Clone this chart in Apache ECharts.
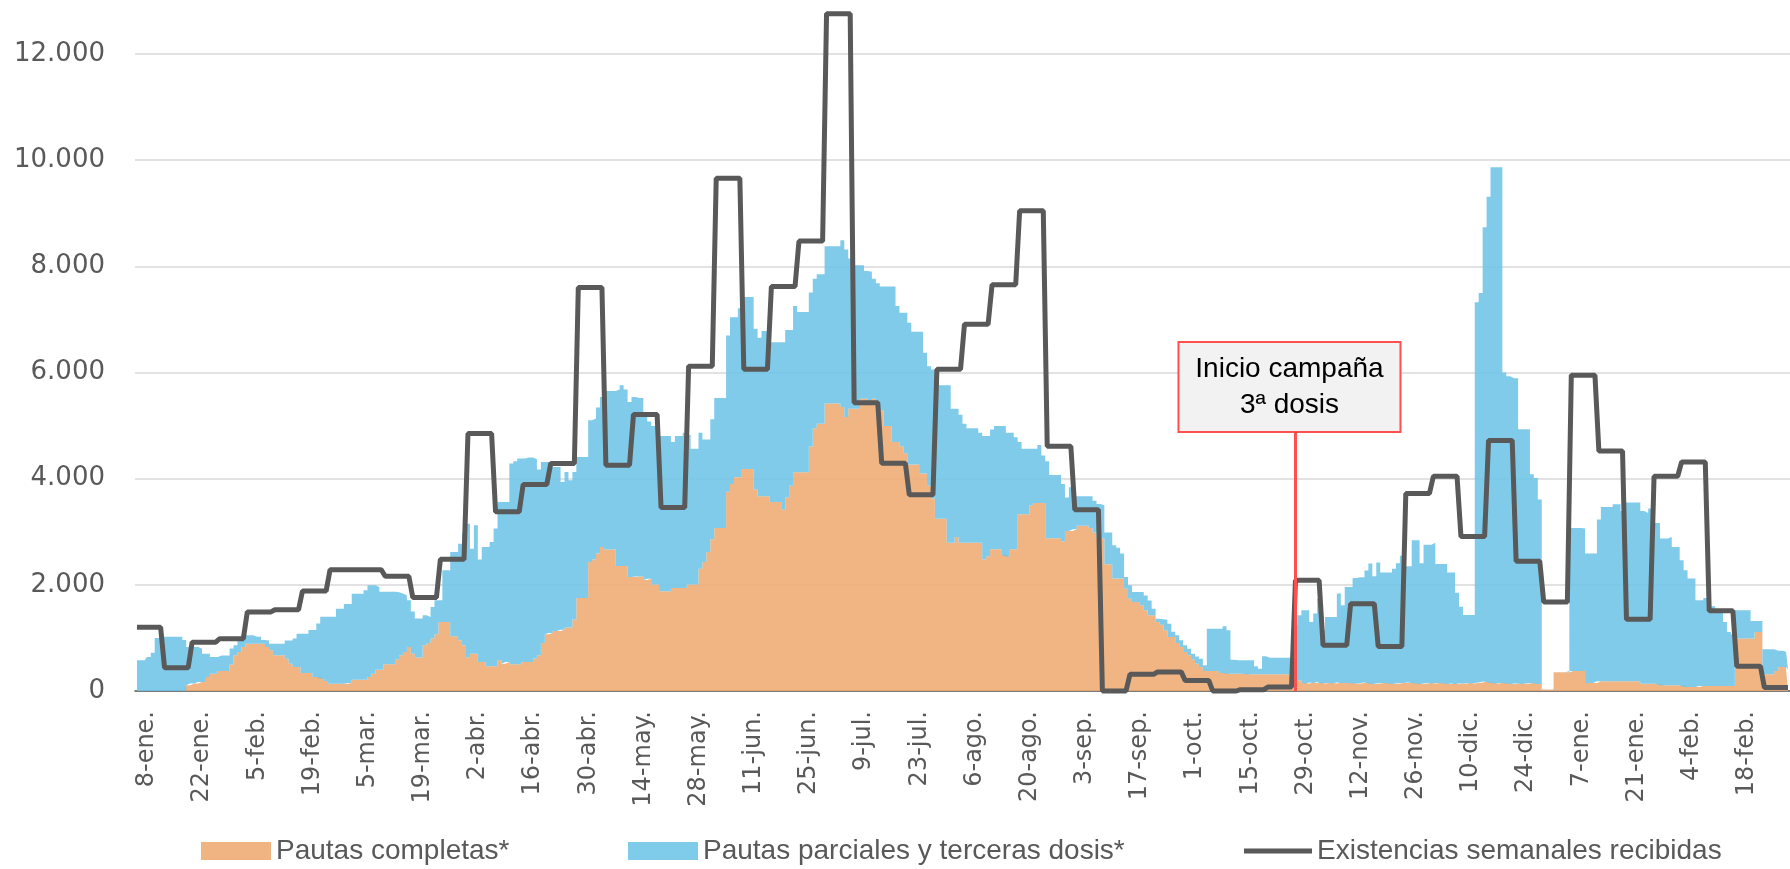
<!DOCTYPE html>
<html>
<head>
<meta charset="utf-8">
<title>Dosis administradas y existencias semanales</title>
<script src="https://cdn.jsdelivr.net/npm/echarts@6/dist/echarts.min.js"></script>
<style>
  html, body { margin: 0; padding: 0; background: #fff; }
  #chart { width: 1790px; height: 869px; }
</style>
</head>
<body>
<div id="chart"></div>
<script>
// etiquetas del eje X, una cada 14 días desde el 8-ene-2021
const tickLabels = [
  "8-ene.", "22-ene.", "5-feb.", "19-feb.", "5-mar.", "19-mar.", "2-abr.", "16-abr.",
  "30-abr.", "14-may.", "28-may.", "11-jun.", "25-jun.", "9-jul.", "23-jul.", "6-ago.",
  "20-ago.", "3-sep.", "17-sep.", "1-oct.", "15-oct.", "29-oct.", "12-nov.", "26-nov.",
  "10-dic.", "24-dic.", "7-ene.", "21-ene.", "4-feb.", "18-feb."
];

// valores diarios (una fila por semana)
const pautasCompletas = [
  0, 0, 0, 0, 0, 0, 0,
  0, 0, 0, 0, 0, 0, 107,
  140, 140, 170, 170, 264, 327, 327,
  377, 377, 377, 500, 672, 735, 829,
  892, 892, 892, 892, 892, 829, 766,
  672, 672, 672, 609, 515, 452, 452,
  339, 339, 339, 264, 264, 232, 188,
  138, 138, 138, 138, 138, 150, 213,
  213, 213, 213, 264, 327, 402, 402,
  502, 502, 502, 600, 673, 735, 830,
  700, 629, 629, 861, 905, 987, 1068,
  1301, 1301, 1301, 1031, 1031, 955, 861,
  629, 704, 704, 547, 547, 465, 465,
  465, 578, 515, 547, 503, 503, 503,
  547, 547, 547, 610, 673, 905, 1068,
  1093, 1131, 1131, 1156, 1194, 1194, 1345,
  1753, 1753, 1753, 2431, 2475, 2588, 2714,
  2664, 2664, 2664, 2355, 2355, 2355, 2148,
  2148, 2159, 2159, 2091, 2116, 2006, 2006,
  1878, 1878, 1878, 1938, 1938, 1938, 1938,
  2006, 2006, 2006, 2304, 2432, 2620, 2859,
  3072, 3072, 3072, 3755, 3900, 4028, 4028,
  4181, 4181, 4181, 3797, 3669, 3669, 3669,
  3559, 3559, 3559, 3414, 3644, 3866, 4122,
  4122, 4122, 4122, 4608, 4949, 5035, 5035,
  5418, 5418, 5418, 5418, 5350, 5162, 5316,
  5316, 5316, 5504, 5504, 5450, 5504, 5291,
  5291, 4992, 4992, 4693, 4693, 4608, 4480,
  4267, 4267, 4267, 4096, 4096, 3866, 3627,
  3243, 3243, 3243, 2791, 2791, 2902, 2791,
  2791, 2791, 2791, 2791, 2791, 2475, 2535,
  2671, 2671, 2671, 2560, 2535, 2671, 2671,
  3328, 3328, 3328, 3499, 3541, 3541, 3541,
  2876, 2876, 2876, 2876, 2817, 3012, 3012,
  3046, 3114, 3114, 3114, 3072, 2987, 2876,
  2876, 2390, 2390, 2117, 2117, 2117, 1928,
  1740, 1677, 1677, 1615, 1520, 1426, 1426,
  1300, 1250, 1143, 1017, 1017, 904, 829,
  735, 672, 590, 515, 452, 377, 377,
  377, 377, 339, 339, 327, 327, 327,
  327, 327, 314, 314, 314, 314, 314,
  314, 314, 314, 314, 314, 314, 314,
  200, 200, 150, 140, 160, 150, 170,
  140, 150, 150, 140, 160, 150, 150,
  150, 140, 140, 150, 160, 140, 130,
  140, 150, 150, 140, 130, 140, 150,
  150, 160, 150, 140, 130, 140, 150,
  140, 150, 150, 140, 130, 140, 130,
  140, 140, 150, 140, 150, 160, 180,
  170, 150, 140, 150, 150, 140, 130,
  140, 140, 130, 140, 150, 140, 130,
  30, 30, 30, 352, 352, 352, 352,
  378, 378, 378, 378, 151, 151, 151,
  183, 183, 183, 183, 183, 183, 183,
  183, 183, 183, 183, 138, 138, 138,
  138, 138, 106, 106, 106, 106, 106,
  106, 75, 75, 75, 75, 95, 95,
  95, 95, 95, 95, 95, 95, 95,
  987, 987, 987, 987, 987, 1113, 1113,
  315, 315, 315, 378, 453, 453, 400
];

const pautasParciales = [
  580, 580, 580, 640, 720, 1000, 1020,
  1020, 1020, 1020, 1020, 1020, 960, 723,
  690, 690, 630, 530, 436, 313, 313,
  293, 293, 293, 300, 188, 255, 221,
  158, 158, 128, 128, 68, 121, 124,
  218, 218, 218, 341, 435, 538, 628,
  741, 741, 811, 886, 1006, 1168, 1212,
  1262, 1262, 1412, 1412, 1502, 1490, 1617,
  1617, 1617, 1687, 1726, 1663, 1558, 1468,
  1368, 1368, 1368, 1260, 1162, 1065, 880,
  800, 735, 735, 565, 490, 597, 642,
  409, 973, 973, 1589, 1589, 1821, 2104,
  2524, 1978, 2418, 1928, 2167, 2249, 2343,
  2594, 2984, 3047, 3015, 3781, 3825, 3875,
  3831, 3850, 3850, 3756, 3498, 3410, 3247,
  3191, 3090, 3090, 2782, 2933, 2776, 2782,
  2656, 2656, 2656, 2669, 2657, 2751, 2826,
  2989, 2989, 2989, 3323, 3405, 3323, 3298,
  3392, 3362, 3362, 3114, 2961, 2986, 2986,
  2926, 2926, 2926, 2755, 2866, 2866, 2926,
  2815, 2559, 2559, 2560, 2304, 2116, 2261,
  2449, 2449, 2449, 2943, 3140, 3012, 3182,
  3243, 3243, 3243, 3029, 2987, 3115, 3115,
  3011, 3011, 3011, 3156, 3157, 2935, 3131,
  3020, 3020, 3020, 2901, 2816, 2815, 2815,
  2961, 2961, 2961, 2961, 3140, 3157, 2833,
  2705, 2705, 2517, 2406, 2450, 2261, 2389,
  2329, 2628, 2628, 2927, 2560, 2517, 2645,
  2670, 2500, 2500, 2671, 2278, 2252, 2431,
  2688, 2517, 2517, 2969, 2525, 2414, 2414,
  2244, 2158, 2158, 2158, 2073, 2329, 2269,
  2253, 2321, 2321, 2432, 2329, 2193, 2107,
  1365, 1237, 1237, 1066, 1024, 1093, 896,
  1451, 1195, 1195, 1195, 1083, 632, 828,
  623, 555, 555, 555, 597, 597, 648,
  623, 597, 597, 628, 583, 471, 221,
  251, 188, 188, 250, 281, 281, 124,
  60, 100, 200, 250, 100, 145, 126,
  125, 126, 113, 135, 157, 107, 798,
  798, 798, 836, 879, 816, 263, 250,
  250, 250, 263, 263, 151, 107, 339,
  314, 314, 314, 314, 314, 314, 314,
  1050, 1226, 1370, 1380, 1140, 1308, 1570,
  1003, 1245, 1245, 1255, 1675, 1465, 1810,
  1810, 1990, 2003, 1993, 2109, 2260, 2034,
  2282, 2084, 2084, 2094, 2174, 2268, 2398,
  2202, 2192, 2690, 2700, 2278, 2617, 2607,
  2651, 2244, 2244, 2254, 2104, 2094, 1721,
  1446, 1294, 1284, 1294, 7172, 7336, 8557,
  9139, 9716, 9726, 9716, 5848, 5788, 5763,
  5753, 4791, 4801, 4791, 3931, 3871, 3477,
  0, 0, 0, 0, 0, 0, 0,
  2693, 2693, 2693, 2681, 2437, 2437, 2437,
  3046, 3284, 3284, 3284, 3335, 3335, 3209,
  3366, 3366, 3366, 3366, 3254, 3217, 3298,
  3028, 3028, 2765, 2765, 2796, 2608, 2608,
  2357, 2199, 2042, 2042, 1634, 1614, 1658,
  1501, 1501, 1394, 1394, 1206, 1018, 973,
  534, 534, 534, 534, 333, 207, 207,
  471, 471, 471, 382, 307, 287, 304
];

// existencias recibidas, un valor por semana (viernes a jueves)
const existenciasSemanales = [
  1200, 440, 920, 985, 1490, 1530, 1885, 2285, 2285, 2160,
  1760, 2480, 4850, 3375, 3890, 4285, 7600, 4255, 5210, 3455,
  6120, 9660, 6060, 7620, 8475, 12760, 5430, 4290, 3695, 6060,
  6910, 7655, 9045, 4610, 3415, 0, 315, 360, 200, 0,
  25, 75, 2085, 860, 1645, 840, 3720, 4045, 2910, 4720,
  2445, 1675, 5950, 4520, 1350, 4045, 4315, 1510, 465, 65
];

const inicioTerceraDosis = "2021-10-29";
const alturaNota = 4900;

const dias = pautasCompletas.map((_, i) =>
  new Date(Date.UTC(2021, 0, 8 + i)).toISOString().slice(0, 10)
);
const existencias = dias.map((_, i) => existenciasSemanales[Math.floor(i / 7)]);

const chart = echarts.init(document.getElementById("chart"));

const legendText = { color: "#595959", fontSize: 28, fontFamily: "Liberation Sans" };

chart.setOption({
  animation: false,
  textStyle: { fontFamily: "DejaVu Sans" },
  grid: { left: 135, right: 0, top: 54, bottom: 178 },
  legend: [
    {
      left: 196, top: 832, itemWidth: 70, itemHeight: 18,
      textStyle: legendText,
      data: [{ name: "Pautas completas*", icon: "rect" }],
    },
    {
      left: 623, top: 832, itemWidth: 70, itemHeight: 18,
      textStyle: legendText,
      data: [{ name: "Pautas parciales y terceras dosis*", icon: "rect" }],
    },
    {
      left: 1239, top: 832, itemWidth: 68, itemHeight: 5,
      textStyle: legendText,
      data: [{ name: "Existencias semanales recibidas", icon: "rect" }],
    },
  ],
  xAxis: {
    type: "category",
    data: dias,
    boundaryGap: true,
    axisLine: { lineStyle: { color: "#595959", width: 1.5 } },
    axisTick: { show: false },
    axisLabel: {
      interval: 13,
      rotate: 90,
      margin: 20,
      verticalAlign: "top",
      lineHeight: 20,
      color: "#595959",
      fontSize: 24,
      fontFamily: "DejaVu Sans",
      formatter: (value, index) => tickLabels[index / 14],
    },
  },
  yAxis: {
    type: "value",
    min: 0,
    max: 12000,
    interval: 2000,
    axisLine: { show: false },
    axisTick: { show: false },
    axisLabel: {
      margin: 30,
      color: "#595959",
      fontSize: 26,
      fontFamily: "DejaVu Sans",
      formatter: (v) => String(v).replace(/\B(?=(\d{3})+(?!\d))/g, "."),
    },
    splitLine: { lineStyle: { color: "#d9d9d9", width: 1.5 } },
  },
  series: [
    {
      name: "Pautas completas*",
      type: "line",
      stack: "dosis",
      step: "middle",
      symbol: "none",
      data: pautasCompletas,
      lineStyle: { width: 0, opacity: 0 },
      itemStyle: { color: "#F0B483" },
      areaStyle: { color: "#EEAB72", opacity: 0.88 },
      z: 2,
    },
    {
      name: "Pautas parciales y terceras dosis*",
      type: "line",
      stack: "dosis",
      step: "middle",
      symbol: "none",
      data: pautasParciales,
      lineStyle: { width: 0, opacity: 0 },
      itemStyle: { color: "#7FCBEA" },
      areaStyle: { color: "#6EC4E7", opacity: 0.88 },
      z: 2,
    },
    {
      name: "Existencias semanales recibidas",
      type: "line",
      symbol: "none",
      clip: false,
      data: existencias,
      lineStyle: { color: "#595959", width: 5 },
      itemStyle: { color: "#595959" },
      z: 3,
      markLine: {
        silent: true,
        symbol: "none",
        animation: false,
        lineStyle: { color: "#FF5050", width: 3, type: "solid" },
        label: {
          show: true,
          position: "end",
          distance: 0,
          offset: [-6, 0],
          formatter: "Inicio campaña\n3ª dosis",
          backgroundColor: "#F2F2F2",
          borderColor: "#FF5050",
          borderWidth: 2,
          padding: [8, 0],
          width: 220,
          lineHeight: 36,
          align: "center",
          color: "#000",
          fontSize: 28,
          fontFamily: "Liberation Sans",
        },
        data: [[
          { coord: [inicioTerceraDosis, 0] },
          { coord: [inicioTerceraDosis, alturaNota] },
        ]],
      },
    },
  ],
});

window.addEventListener("resize", () => chart.resize());
</script>
</body>
</html>
